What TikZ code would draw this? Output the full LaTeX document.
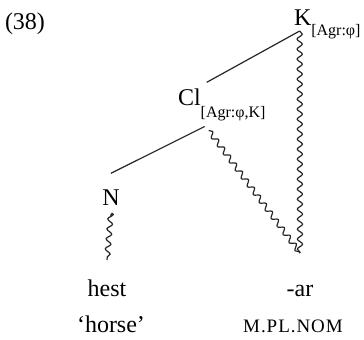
\documentclass[tikz,border=0pt]{standalone}
\usepackage{fontspec}
\setmainfont{Liberation Serif}
\usepackage{tikz}
\usetikzlibrary{decorations.pathmorphing}

\begin{document}
\begin{tikzpicture}[
    x=0.5pt, y=-0.5pt,
    cat/.style={inner sep=0pt, outer sep=3pt, font=\fontsize{12}{14}\selectfont},
    featsub/.style={inner sep=0pt, outer sep=3pt, anchor=base west, font=\fontsize{8}{10}\selectfont},
    leaf/.style={inner sep=0pt, outer sep=3pt, anchor=base, text height=8pt, font=\fontsize{12}{14}\selectfont},
    gloss/.style={inner sep=0pt, anchor=base, font=\fontsize{12}{14}\selectfont},
    smallcaps/.style={inner sep=0pt, anchor=base, font=\fontsize{9.5}{11}\selectfont\addfontfeature{LetterSpace=5}},
    branch/.style={draw=black!85, line width=0.6pt},
    wavy/.style={draw=black!85, line width=0.6pt, decorate, decoration={snake, amplitude=1.3pt, segment length=5pt}}
]
    \useasboundingbox (0,0) rectangle (364,339);

    % Nodes
    \node[cat, anchor=base west] (exnum) at (-1,29) {(38)};
    \node[cat, anchor=base west] (k) at (288,25) {K};
    \node[featsub] (ksub) at ([xshift=-6pt, yshift=-5pt]k.base east) {[Agr:φ]};
    \node[cat, anchor=base west] (cl) at (172,105) {Cl};
    \node[featsub] (clsub) at ([xshift=-6pt, yshift=-6pt]cl.base east) {[Agr:φ,K]};
    \node[cat, anchor=base] (n) at (111,205) {N};
    \node[leaf] (hest) at (107,296) {hest};
    \node[gloss] (horse) at (111,332) {‘horse’};
    \node[leaf] (ar) at (300,296) {-ar};
    \node[smallcaps] (mplnom) at (293,332) {M.PL.NOM};

    % Lines
    \draw[branch] ([xshift=-1.5pt]k.south) -- (cl.north east);
    \draw[branch] ([xshift=5pt]clsub.south west) -- ([yshift=5pt]n.north);
    \draw[wavy] ([xshift=-1.5pt]k.south) -- ([yshift=10.5pt]ar.north);
    \draw[wavy] ([xshift=7pt, yshift=-2pt]clsub.south west) -- ([yshift=10.5pt]ar.north);
    \draw[wavy, shorten <=3pt] (n.south) -- ([yshift=7pt]hest.north);
\end{tikzpicture}
\end{document}
